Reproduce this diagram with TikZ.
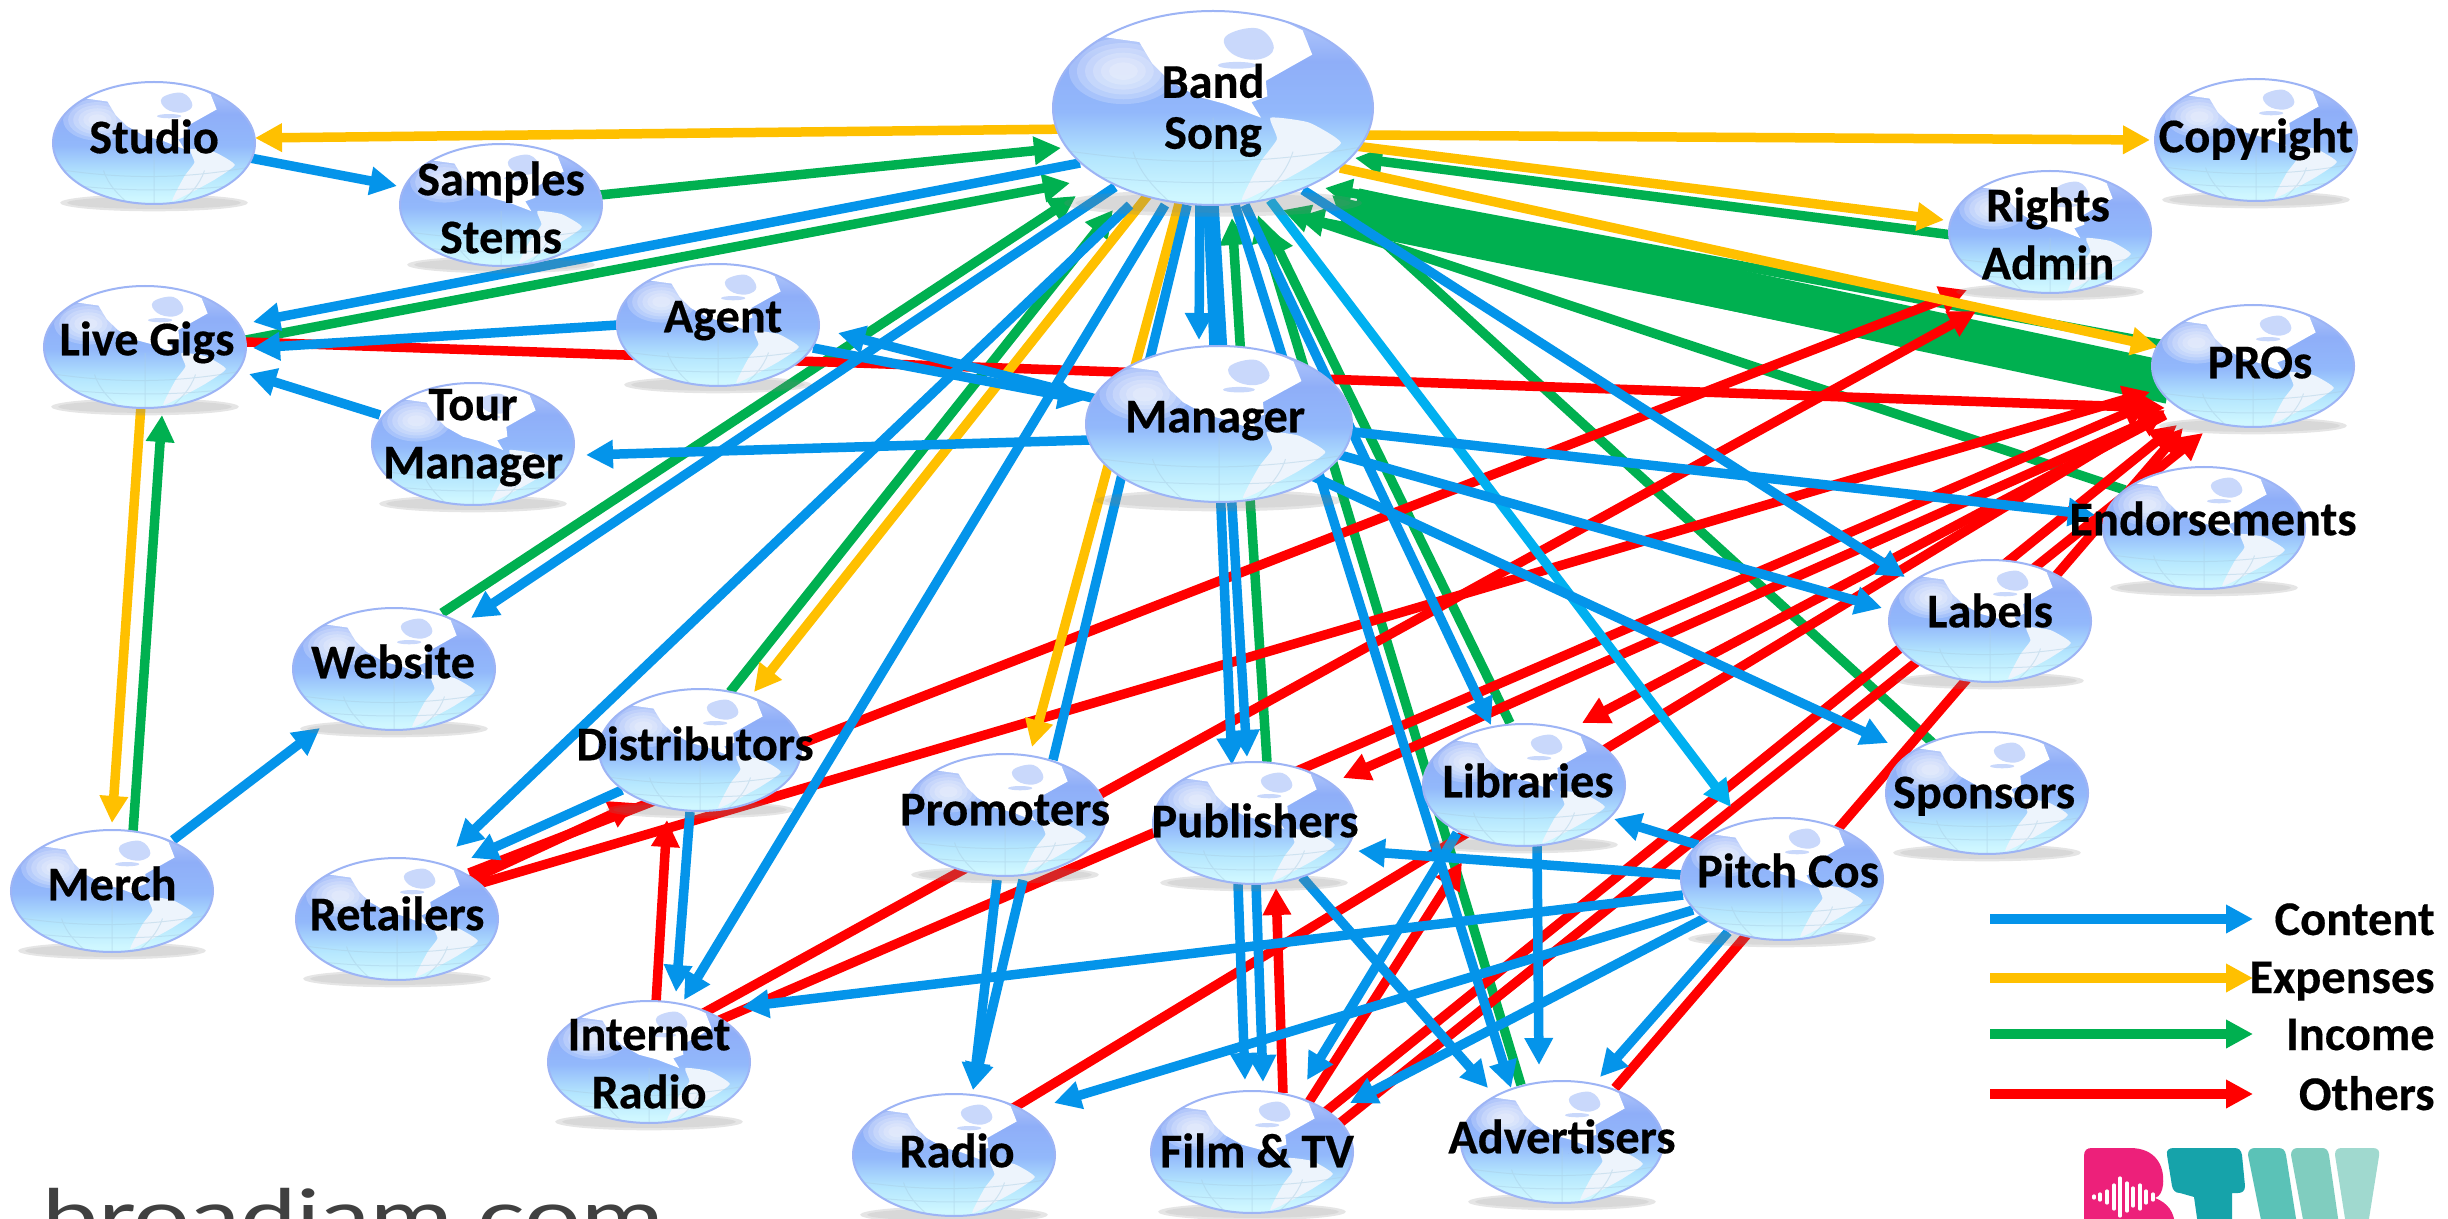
\documentclass[tikz,border=0pt]{standalone}
\usepackage{fontspec}
\setmainfont{Carlito}[BoldFeatures={FakeBold=0.35}]
\newfontfamily\bjfont{Lato}
\usetikzlibrary{arrows.meta,calc,shapes.geometric}
\definecolor{cblue}{HTML}{0494EA}
\definecolor{clight}{HTML}{00B0F0}
\definecolor{cyellow}{HTML}{FFC000}
\definecolor{cgreen}{HTML}{00B050}
\definecolor{cred}{HTML}{FF0000}
\definecolor{gA}{HTML}{CFF7FF}
\definecolor{gB}{HTML}{B4E6FE}
\definecolor{gC}{HTML}{92B8FB}
\definecolor{gD}{HTML}{8FAEF8}
\definecolor{gE}{HTML}{B9CCFA}
\definecolor{rimc}{HTML}{9DB4F5}
\definecolor{saf}{HTML}{EDF4FC}
\definecolor{cana}{HTML}{C9D8FB}
\definecolor{gridc}{HTML}{A9CDE3}
\pgfdeclareverticalshading{globeS}{100bp}{color(0bp)=(gA);color(27bp)=(gA);color(37bp)=(gB);color(49bp)=(gC);color(62bp)=(gD);color(75bp)=(gE);color(100bp)=(gE)}
\pgfdeclarelayer{conn}\pgfdeclarelayer{shad}\pgfdeclarelayer{art}
\pgfsetlayers{conn,shad,art,main}
\tikzset{
 flow/.style={line width=4.75pt,-{Triangle[length=13.5pt,width=13.5pt]}},
 plain/.style={line width=4.75pt},
 content/.style={flow,draw=cblue,fill=cblue},
 contentl/.style={flow,draw=clight,fill=clight},
 expense/.style={flow,draw=cyellow,fill=cyellow},
 income/.style={flow,draw=cgreen,fill=cgreen},
 others/.style={flow,draw=cred,fill=cred},
 globenode/.style={ellipse,inner sep=0pt,outer sep=0pt,text=black,font=\fontsize{24.2}{28}\selectfont\bfseries},
 legendlabel/.style={anchor=base east,inner sep=0pt,font=\fontsize{24.2}{28}\selectfont\bfseries},
}
\newcommand\gltext[3]{\raisebox{\dimexpr-0.5\dimexpr#2pt\relax-.25em-2.2pt\relax}[0pt][0pt]{\makebox[0pt]{\hspace*{#1pt}\begin{tabular}[c]{@{}c@{}}#3\end{tabular}}}}
% name, cx, cy, rx, ry, text dx, text dy, text
\newcommand\globe[8]{%
 \begin{pgfonlayer}{shad}
  \fill[gray,opacity=.2] ($(#2,#3)+(0,0.98*#5)$) ellipse [x radius=0.93*#4,y radius=0.14*#5];
  \fill[gray,opacity=.12] ($(#2,#3)+(0,0.98*#5)$) ellipse [x radius=0.86*#4,y radius=0.10*#5];
 \end{pgfonlayer}
 \begin{pgfonlayer}{art}
 \begin{scope}[shift={(#2,#3)},xscale=#4,yscale=#5]
  \begin{scope}
   \clip (0,0) circle [radius=1];
   \shade[shading=globeS] (-1,-1) rectangle (1,1);
   \fill[white] (-.72,-.74) -- (-.46,-.68) -- (-.38,-.46) -- (-.27,-.28) -- (-.1,-.12) -- (.08,-.04) -- (.3,.1) -- (.24,-.06) -- (.34,-.12) -- (.33,-.28) -- (.48,-.42) -- (.62,-.55) -- (.56,-.8) -- (.25,-1.05) -- (-.4,-1.05) -- cycle;
   \fill[cana] plot[smooth cycle,tension=.7] coordinates {(.08,-.74) (.28,-.82) (.38,-.62) (.28,-.5) (.12,-.56)};
   \fill[cana] (.15,-.44) ellipse [x radius=.12,y radius=.035];
   \fill[saf] plot[smooth cycle,tension=.3] coordinates {(.36,.1) (.6,.15) (.8,.36) (.6,.6) (.38,.8) (.18,.95) (.3,.55) (.4,.32)};
   \foreach \r in {.34,.29,.24,.19,.14,.09} {\fill[white,opacity=.2] (-.56,-.38) circle [radius=\r];}
   \draw[gridc,opacity=.45,line width=.5pt] (-1,.42) .. controls (-.3,.6) and (.3,.6) .. (1,.38)
     (-.88,.68) .. controls (-.3,.8) and (.3,.8) .. (.88,.68)
     (0,.1) -- (0,1) (-.5,.45) .. controls (-.45,.7) and (-.35,.85) .. (-.25,1)
     (.5,.45) .. controls (.45,.7) and (.35,.85) .. (.25,1);
  \end{scope}
  \draw[rimc,line width=1pt] (0,0) circle [radius=1];
 \end{scope}
 \end{pgfonlayer}
 \node[globenode,minimum width=#4pt,minimum height=#5pt] (#1) at (#2,#3) {\gltext{#6}{#7}{#8}};%
}
\newcommand\cn[5]{\draw[#1] ($(#2)+(#3)$) -- ($(#4)+(#5)$);}
\begin{document}
\begin{tikzpicture}[x=.5pt,y=-.5pt]
\useasboundingbox (0,0) rectangle (2448,1219);
\begin{pgfonlayer}{conn}\fill[white] (0,0) rectangle (2448,1219);\end{pgfonlayer}

\globe{band}{1213}{108}{160}{97}{0}{0}{Band\\[-2.5pt]Song}
\globe{studio}{154}{143}{101}{61}{0}{-5}{Studio}
\globe{samples}{501}{205}{101}{61}{0}{4}{Samples\\[1pt]Stems}
\globe{gigs}{145}{347}{101}{61}{2}{-7}{Live Gigs}
\globe{agent}{718}{325}{101}{61}{5}{-8}{Agent}
\globe{tour}{473}{444}{101}{61}{0}{-10}{Tour\\[1pt]Manager}
\globe{manager}{1219}{424}{133}{78}{-4}{-7}{Manager}
\globe{copyright}{2256}{140}{101}{61}{0}{-3}{Copyright}
\globe{rights}{2050}{232}{101}{61}{-2}{3}{Rights\\[1pt]Admin}
\globe{pros}{2253}{366}{101}{61}{7}{-3}{PROs}
\globe{endorse}{2204}{528}{101}{61}{9}{-8}{Endorsements}
\globe{labels}{1990}{621}{101}{61}{0}{-9}{Labels}
\globe{website}{394}{669}{101}{61}{-1}{-6}{Website}
\globe{dist}{700}{750}{101}{61}{-5}{-5}{Distributors}
\globe{retailers}{397}{919}{101}{61}{0}{-4}{Retailers}
\globe{internet}{649}{1062}{101}{61}{0}{2}{Internet\\[1pt]Radio}
\globe{promoters}{1005}{815}{101}{61}{0}{-5}{Promoters}
\globe{publishers}{1254}{823}{101}{61}{1}{-1}{Publishers}
\globe{libraries}{1524}{785}{101}{61}{4}{-3}{Libraries}
\globe{sponsors}{1987}{793}{101}{61}{-3}{0}{Sponsors}
\globe{pitch}{1782}{879}{101}{61}{6}{-7}{Pitch Cos}
\globe{merch}{112}{891}{101}{61}{0}{-6}{Merch}
\globe{radio}{954}{1155}{101}{61}{3}{-3}{Radio}
\globe{film}{1252}{1152}{101}{61}{5}{0}{Film \& TV}
\globe{adv}{1562}{1142}{101}{61}{0}{-4}{Advertisers}

\begin{pgfonlayer}{conn}
% income
\cn{income,-,line width=21pt}{pros}{-83,17}{band}{142,101}
\cn{income}{pros}{-88,-21}{band}{112,80}
\cn{income}{pros}{-88,29}{band}{84,109}
\cn{income}{samples}{99,-10}{band}{-152,40}
\cn{income}{gigs}{101,-7}{band}{-143,75}
\cn{income}{website}{48,-56}{band}{-137,88}
\cn{income}{merch}{21,-59}{gigs}{17,68}
\cn{income}{dist}{30,-58}{band}{-100,102}
\cn{income}{publishers}{13,-61}{band}{19,110}
\cn{income}{adv}{-41,-57}{band}{45,107}
\cn{income}{libraries}{-14,-62}{band}{55,120}
\cn{income}{rights}{-90,4}{band}{142,50}
\cn{income}{endorse}{-79,-38}{band}{70,102}
\cn{income}{sponsors}{-52,-48}{band}{119,87}
% others
\cn{others}{gigs}{101,-5}{pros}{-88,42}
\cn{others}{retailers}{72,-46}{rights}{-83,58}
\cn{others}{retailers}{78,-34}{pros}{-103,26}
\cn{others}{retailers}{73,-39}{dist}{-64,53}
\cn{others}{internet}{51,-47}{rights}{-74,79}
\cn{others}{internet}{66,-40}{pros}{-103,37}
\cn{others}{pros}{-103,54}{publishers}{89,-45}
\cn{others}{pros}{-88,49}{libraries}{58,-62}
\cn{others}{radio}{56,-45}{pros}{-88,44}
\cn{others}{film}{72,-39}{pros}{-76,59}
\cn{others}{film}{88,-29}{pros}{-50,67}
\cn{others}{adv}{53,-54}{pros}{-70,62}
\cn{others}{film}{57,-50}{libraries}{-62,77}
\cn{others}{film}{31,-59}{publishers}{22,65}
\cn{others}{internet}{7,-59}{dist}{-33,70}
% expenses
\cn{expense}{band}{-138,21}{studio}{101,-5}
\cn{expense}{band}{147,27}{copyright}{-106,0}
\cn{expense}{band}{142,38}{rights}{-106,-12}
\cn{expense}{band}{127,60}{pros}{-95,-19}
\cn{expense}{band}{-65,87}{dist}{54,-58}
\cn{expense}{band}{-33,92}{promoters}{27,-68}
\cn{expense}{gigs}{-4,58}{merch}{0,-68}
% content
\cn{content}{studio}{96,15}{samples}{-104,-19}
\cn{content}{band}{-133,55}{gigs}{108,-25}
\cn{content}{agent}{-100,0}{gigs}{108,1}
\cn{content}{tour}{-93,-29}{gigs}{104,27}
\cn{content}{manager}{-129,16}{tour}{113,11}
\cn{content}{manager}{-119,-24}{agent}{120,8}
\cn{content}{agent}{95,23}{manager}{-134,-24}
\cn{content}{band}{-98,79}{website}{77,-51}
\cn{content}{band}{-83,97}{retailers}{59,-72}
\cn{content}{band}{-48,97}{internet}{35,-62}
\cn{content}{band}{-13,92}{manager}{-20,-84}
\cn{content}{band}{-5,97}{publishers}{-22,-58}
\cn{content}{band}{1,97}{publishers}{-7,-66}
\cn{content}{band}{22,97}{adv}{-51,-54}
\cn{content}{band}{32,97}{libraries}{-33,-60}
\cn{contentl}{band}{57,92}{pitch}{-51,-72}
\cn{content}{band}{90,82}{labels}{-85,-44}
\cn{content}{manager}{126,7}{endorse}{-109,-13}
\cn{content}{manager}{121,31}{labels}{-108,-13}
\cn{content}{manager}{91,51}{sponsors}{-99,-50}
\draw[plain,draw=cblue] ($(promoters)+(48,-55)$) -- ($(band)+(-26,97)$);
\cn{content}{promoters}{-8,65}{radio}{19,-65}
\cn{content}{promoters}{18,65}{radio}{19,-65}
\cn{content}{dist}{-78,40}{retailers}{74,-61}
\cn{content}{dist}{-10,62}{internet}{27,-70}
\cn{content}{merch}{61,-51}{website}{-74,59}
\cn{content}{pitch}{-84,-34}{libraries}{90,34}
\cn{content}{pitch}{-100,-4}{publishers}{104,28}
\cn{content}{pitch}{-99,16}{internet}{93,-55}
\cn{content}{pitch}{-89,31}{radio}{100,-52}
\cn{content}{pitch}{-75,38}{film}{98,-49}
\cn{content}{pitch}{-54,53}{adv}{38,-65}
\cn{content}{libraries}{-67,48}{film}{55,-72}
\cn{content}{libraries}{13,61}{adv}{-23,-77}
\cn{content}{publishers}{48,54}{adv}{-74,-54}
\cn{content}{publishers}{-16,61}{film}{-7,-72}
\cn{content}{publishers}{2,61}{film}{11,-70}
\end{pgfonlayer}

% legend
\foreach \n/\y/\s/\t/\b in {a/919/content/Content/935,b/978/expense/Expenses/993,c/1034/income/Income/1050,d/1094/others/Others/1110}{
 \coordinate (l\n s) at (1990,\y);
 \coordinate (l\n e) at (2253,\y);
 \draw[\s] (l\n s) -- (l\n e);
 \node[legendlabel] (l\n t) at (2435,\b) {\t};
}

% broadjam text
\begin{scope}
\clip (0,0) rectangle (2448,1219);
\node[anchor=base west,inner sep=0pt,text=black!75,xscale=1.34,font=\bjfont\fontsize{37.5}{40}\selectfont] (brand) at (42,1243) {broadjam.com};
% logo
\fill[fill={rgb,255:red,237;green,32;blue,122}] (2084,1225) -- (2084,1156) .. controls (2084,1150) and (2087,1148) .. (2092,1148) -- (2130,1148) .. controls (2155,1148) and (2165,1165) .. (2163,1185) .. controls (2162,1192) and (2160,1196) .. (2155,1198) .. controls (2168,1203) and (2174,1212) .. (2175,1225) -- cycle;
\foreach \x/\h in {2094/1,2100/3,2107/6,2114/12,2120/19,2127/14,2133/9,2140/12,2146/6,2153/3}{
 \draw[white,line width=1.6pt,line cap=round] (\x,1197-\h) -- (\x,1197+\h);}
\fill[fill={rgb,255:red,22;green,163;blue,170}] (2167,1155) .. controls (2166,1150) and (2169,1148) .. (2174,1148) -- (2234,1148) .. controls (2239,1148) and (2241,1150) .. (2242,1155) -- (2245,1186) .. controls (2245,1191) and (2242,1193) .. (2238,1193) -- (2232,1193) -- (2232,1225) -- (2198,1225) -- (2194,1197) -- (2180,1193) .. controls (2175,1193) and (2173,1190) .. (2172,1186) -- cycle;
\fill[fill={rgb,255:red,91;green,194;blue,183}] (2248,1155) .. controls (2248,1150) and (2251,1148) .. (2255,1148) -- (2278,1148) .. controls (2283,1148) and (2285,1150) .. (2286,1155) -- (2297,1225) -- (2262,1225) -- cycle;
\fill[fill={rgb,255:red,128;green,205;blue,191}] (2291,1155) .. controls (2291,1150) and (2294,1148) .. (2298,1148) -- (2322,1148) .. controls (2326,1148) and (2328,1150) .. (2329,1155) -- (2339,1225) -- (2304,1225) -- cycle;
\fill[fill={rgb,255:red,160;green,217;blue,207}] (2335,1155) .. controls (2335,1150) and (2337,1148) .. (2342,1148) -- (2373,1148) .. controls (2378,1148) and (2380,1151) .. (2379,1156) -- (2368,1225) -- (2346,1225) -- cycle;
\end{scope}
\end{tikzpicture}
\end{document}
